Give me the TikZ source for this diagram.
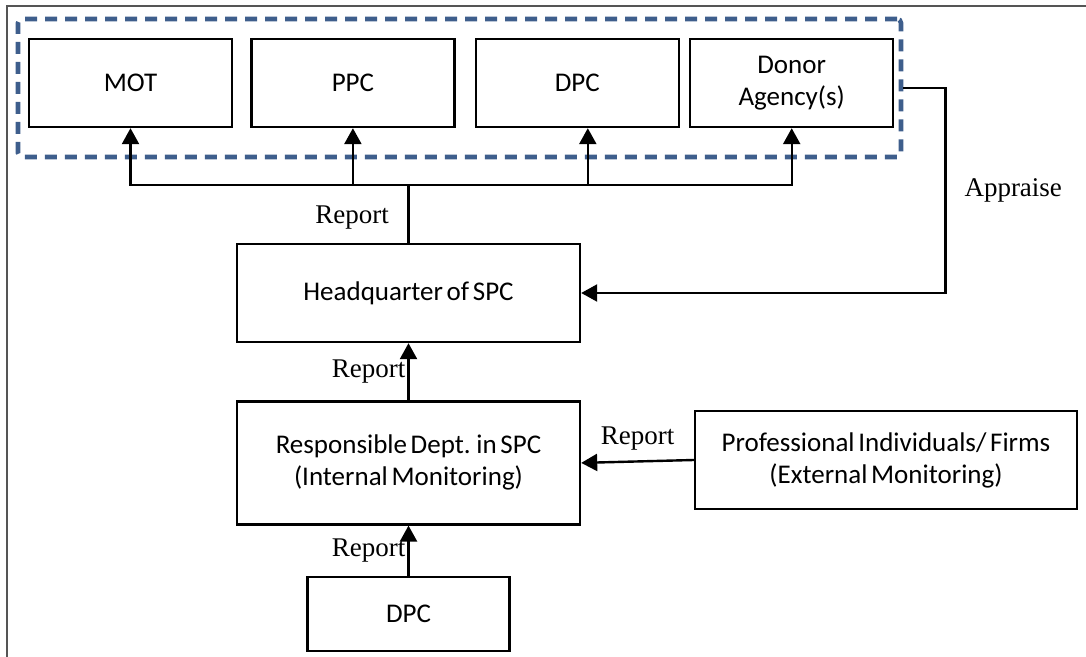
\documentclass[tikz,border=0pt]{standalone}
\usepackage{fontspec}
\setmainfont{Carlito}[WordSpace=0.6]
\newfontfamily\labelfont{Liberation Serif}
\usetikzlibrary{positioning,arrows.meta}
\definecolor{groupblue}{RGB}{62,94,140}
\definecolor{framegray}{RGB}{85,85,85}

\begin{document}
\begin{tikzpicture}[x=0.5pt,y=-0.5pt,
    box/.style={draw,line width=1.2pt,inner sep=0pt,align=center,
      minimum width=101.5pt,minimum height=44pt,font=\fontsize{13.5}{16}\selectfont},
    rep/.style={font=\labelfont\fontsize{13.5}{16}\selectfont,inner sep=1pt},
    link/.style={line width=1.2pt,-{Triangle[length=8pt,width=8.5pt]}}]
\useasboundingbox (0,0) rectangle (1086,657);
\draw[framegray,line width=1pt] (1086,6) -| (7,657);
                % top row, inside the dashed group
                \node[draw=groupblue,line width=2.3pt,dash pattern=on 6pt off 4pt,rounded corners=2pt,
                      minimum width=441.5pt,minimum height=69pt](grp) at (459.5,88){};
                \node[box](mot) at (130.5,83){MOT};
                \node[box](ppc)[right =8.5pt of mot]{PPC};
                \node[box](dpca)[right =9.5pt of ppc]{DPC};
                \node[box](donor)[right =4.5pt of dpca]{Donor\\Agency(s)};
                % middle column
                \node[box,minimum width=171.5pt,minimum height=49pt](hq) at (408.5,293){Headquarter of SPC};
                \node[box,minimum width=171.5pt,minimum height=61.5pt](resp)[below =28.5pt of hq]{Responsible Dept. in SPC\\(Internal Monitoring)};
                \node[box,minimum width=101pt,minimum height=37pt](dpcb)[below =25pt of resp]{DPC};
                \node[box,minimum width=191pt,minimum height=49pt](prof) at (886,460){Professional Individuals/ Firms\\(External Monitoring)};
                \coordinate(split) at (408.5,185);
                \draw[line width=1.6pt](hq.north) -- node[rep,left,xshift=-8pt,yshift=-2pt]{Report}(split);
                \draw[link](split) -| (mot.south);
                \draw[link](split) -| (ppc.south);
                \draw[link](split) -| ([xshift=5.25pt]dpca.south);
                \draw[link](split) -| (donor.south);
                \draw[link](resp.north) -- node[rep,left]{Report}(hq.south);
                \draw[link](dpcb.north) -- node[rep,left]{Report}(resp.south);
                \draw[link](prof.west) -- node[rep,above,yshift=4pt]{Report}(resp.east);
                \draw[link](grp.east) -- ++(42,0) |- node[rep,right,pos=0.25,xshift=8pt]{Appraise}(hq.east);
\end{tikzpicture}
\end{document}
